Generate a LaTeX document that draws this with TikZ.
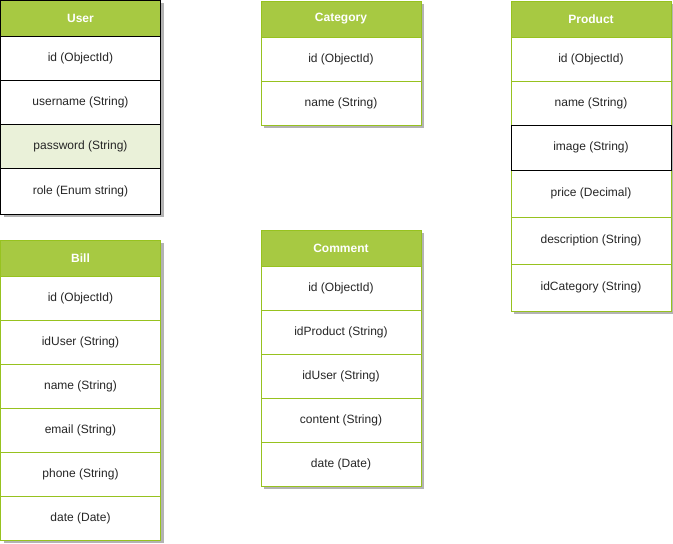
\documentclass[tikz,border=0pt]{standalone}
\usepackage{fontspec}
\setmainfont{Liberation Sans}
\definecolor{hdrfill}{HTML}{A7C942}
\definecolor{grnline}{HTML}{97C21F}
\definecolor{pwfill}{HTML}{EAF1D9}
\definecolor{shadowgray}{HTML}{B3B3B3}
\tikzset{
  cell/.style={draw=grnline, fill=white, line width=1pt, minimum width=160pt, inner sep=0pt, outer sep=0pt, anchor=north west, font=\fontsize{12}{14}\selectfont, text=black!85},
  hdr/.style={cell, fill=hdrfill, font=\fontsize{12}{14}\selectfont\bfseries, text=white},
  blk/.style={draw=black},
  shade/.style={fill=shadowgray, draw=none},
}
\begin{document}
\begin{tikzpicture}[x=1pt,y=-1pt]
\useasboundingbox (0,0) rectangle (673,544);
% shadows
\fill[shade] (3.5,3) rectangle (163.5,217);
\fill[shade] (264,4) rectangle (424,128);
\fill[shade] (514,4) rectangle (674,314);
\fill[shade] (3.5,243) rectangle (163.5,543);
\fill[shade] (264,233) rectangle (424,489);
% User
\node[hdr,blk,minimum height=36pt] (uh) at (0.5,0.5) {User};
\node[cell,blk,minimum height=44pt] (u1) at (0.5,36) {id (ObjectId)};
\node[cell,blk,minimum height=44pt] (u2) at (0.5,80) {username (String)};
\node[cell,blk,fill=pwfill,minimum height=44pt] (u3) at (0.5,124) {password (String)};
\node[cell,blk,minimum height=46pt] (u4) at (0.5,168) {role (Enum string)};
% Category
\node[hdr,minimum height=36pt] (ch) at (261,1) {Category};
\node[cell,minimum height=44pt] (c1) at (261,37) {id (ObjectId)};
\node[cell,minimum height=44pt] (c2) at (261,81) {name (String)};
% Product
\node[hdr,minimum height=36pt] (ph) at (511,1) {Product};
\node[cell,minimum height=44pt] (p1) at (511,37) {id (ObjectId)};
\node[cell,minimum height=44pt] (p2) at (511,81) {name (String)};
\node[cell,minimum height=47pt] (p4) at (511,170) {price (Decimal)};
\node[cell,minimum height=47pt] (p5) at (511,217) {description (String)};
\node[cell,minimum height=47pt] (p6) at (511,264) {idCategory (String)};
\node[cell,blk,minimum height=45pt] (p3) at (511,125) {image (String)};
% Bill
\node[hdr,minimum height=36pt] (bh) at (0.5,240) {Bill};
\node[cell,minimum height=44pt] (b1) at (0.5,276) {id (ObjectId)};
\node[cell,minimum height=44pt] (b2) at (0.5,320) {idUser (String)};
\node[cell,minimum height=44pt] (b3) at (0.5,364) {name (String)};
\node[cell,minimum height=44pt] (b4) at (0.5,408) {email (String)};
\node[cell,minimum height=44pt] (b5) at (0.5,452) {phone (String)};
\node[cell,minimum height=44pt] (b6) at (0.5,496) {date (Date)};
% Comment
\node[hdr,minimum height=36pt] (mh) at (261,230) {Comment};
\node[cell,minimum height=44pt] (m1) at (261,266) {id (ObjectId)};
\node[cell,minimum height=44pt] (m2) at (261,310) {idProduct (String)};
\node[cell,minimum height=44pt] (m3) at (261,354) {idUser (String)};
\node[cell,minimum height=44pt] (m4) at (261,398) {content (String)};
\node[cell,minimum height=44pt] (m5) at (261,442) {date (Date)};
\end{tikzpicture}
\end{document}
